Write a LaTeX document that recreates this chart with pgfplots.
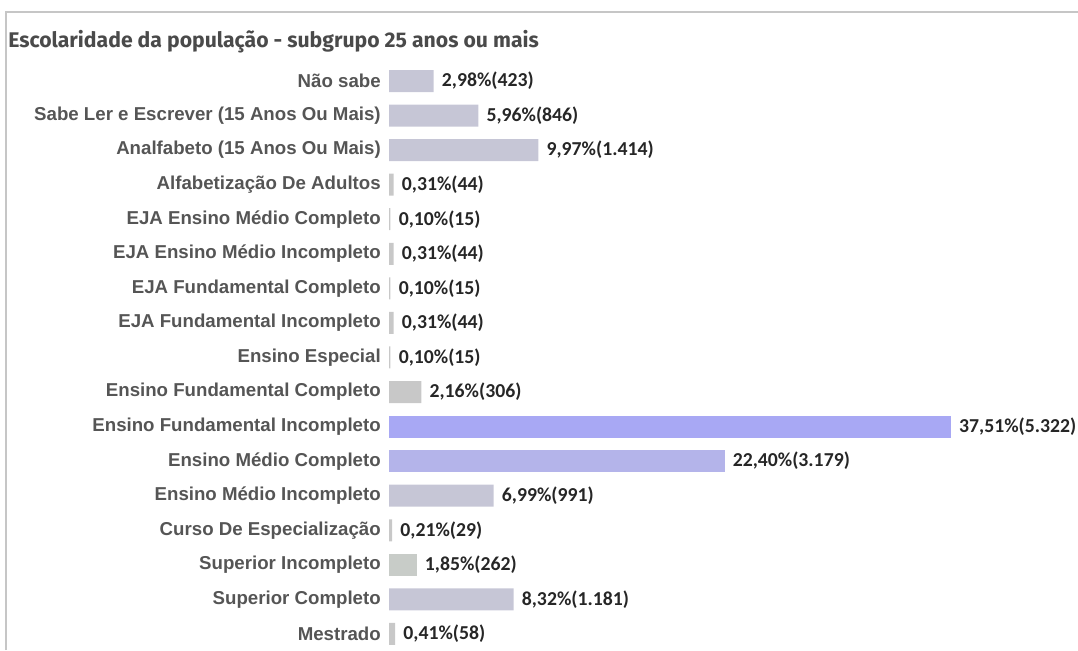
\documentclass[border=0pt]{standalone}
\usepackage{fontspec}
\setmainfont{Liberation Sans}
\newfontfamily\valfont{Carlito}
\newfontfamily\titlefont{Fira Sans}
\usepackage{pgfplots}
\pgfplotsset{compat=1.18}

\definecolor{lav}{HTML}{C6C6D6}
\definecolor{gry}{HTML}{C8C8C8}
\definecolor{grn}{HTML}{C8CCC8}
\definecolor{blueA}{HTML}{A8A8F4}
\definecolor{blueB}{HTML}{B4B4EA}
\definecolor{lbl}{HTML}{555555}
\definecolor{ttl}{HTML}{4A4A4A}

\begin{document}
\begin{tikzpicture}
\useasboundingbox (0,0) rectangle (808.5pt,487.5pt);
% frame
\draw[gray!45, line width=1.5pt] (4.5pt,0) -- (4.5pt,478.5pt) -- (808.5pt,478.5pt);
\node[anchor=base west, inner sep=0pt, text=ttl, font=\titlefont\bfseries\fontsize{15.9pt}{18pt}\selectfont]
  at (6pt,452pt) {Escolaridade da população - subgrupo 25 anos ou mais};

\begin{axis}[
  at={(291.75pt,439.7pt)}, anchor=north west,
  scale only axis, width=449.4pt, height=440.6pt,
  xbar, /pgf/bar shift=0pt, bar width=16.5pt,
  xmin=0, xmax=40, ymin=-0.5, ymax=16.5, y dir=reverse,
  xtick=\empty,
  ytick={0,...,16},
  yticklabels={Não sabe, Sabe Ler e Escrever (15 Anos Ou Mais), Analfabeto (15 Anos Ou Mais),
    Alfabetização De Adultos, EJA Ensino Médio Completo, EJA Ensino Médio Incompleto,
    EJA Fundamental Completo, EJA Fundamental Incompleto, Ensino Especial,
    Ensino Fundamental Completo, Ensino Fundamental Incompleto, Ensino Médio Completo,
    Ensino Médio Incompleto, Curso De Especialização, Superior Incompleto,
    Superior Completo, Mestrado},
  yticklabel style={font=\bfseries\fontsize{14pt}{16pt}\selectfont, text=lbl, inner sep=0pt, xshift=-6pt},
  major tick length=0pt,
  axis line style={draw=none},
  point meta=explicit symbolic,
  nodes near coords,
  every node near coord/.append style={anchor=west, inner sep=0pt, xshift=6pt,
    font=\valfont\bfseries\fontsize{14.8pt}{16pt}\selectfont, text=black!85},
  clip=false,
]
\addplot[fill=lav, draw=none] coordinates {
  (2.98,0) [2,98\%(423)]
  (5.96,1) [5,96\%(846)]
  (9.97,2) [9,97\%(1.414)]
  (6.99,12) [6,99\%(991)]
  (8.32,15) [8,32\%(1.181)]
};
\addplot[fill=gry, draw=none] coordinates {
  (0.31,3) [0,31\%(44)]
  (0.10,4) [0,10\%(15)]
  (0.31,5) [0,31\%(44)]
  (0.10,6) [0,10\%(15)]
  (0.31,7) [0,31\%(44)]
  (0.10,8) [0,10\%(15)]
  (2.16,9) [2,16\%(306)]
  (0.21,13) [0,21\%(29)]
  (0.41,16) [0,41\%(58)]
};
\addplot[fill=grn, draw=none] coordinates {
  (1.85,14) [1,85\%(262)]
};
\addplot[fill=blueA, draw=none] coordinates {
  (37.51,10) [37,51\%(5.322)]
};
\addplot[fill=blueB, draw=none] coordinates {
  (22.40,11) [22,40\%(3.179)]
};
\end{axis}
\end{tikzpicture}
\end{document}
